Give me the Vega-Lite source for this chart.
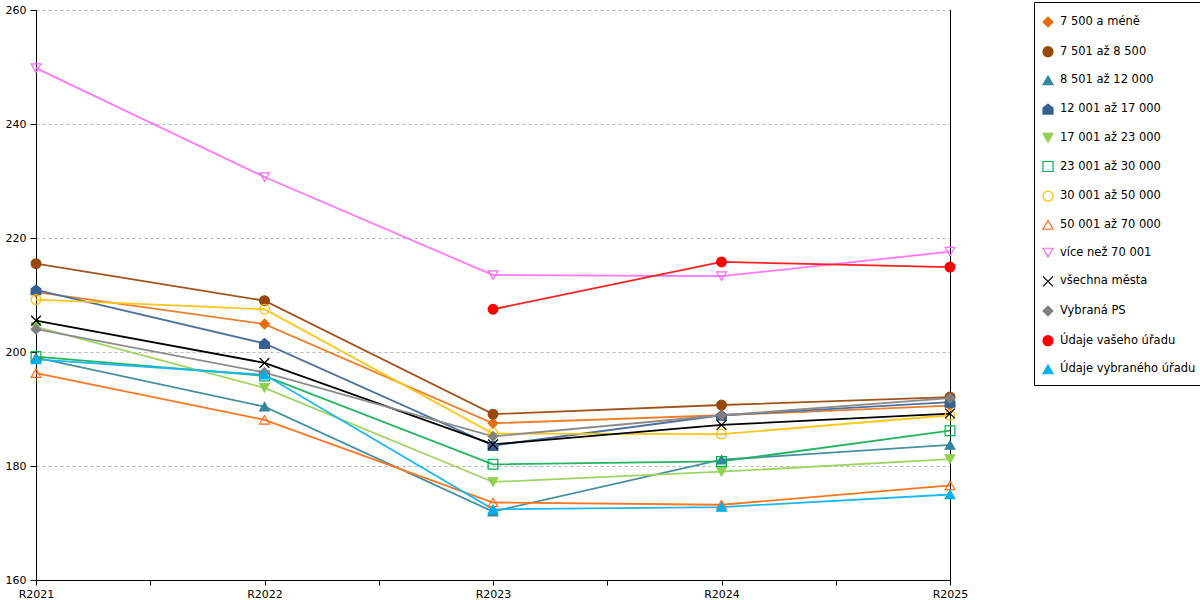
{
  "$schema": "https://vega.github.io/schema/vega-lite/v6.json",
  "width": 914,
  "height": 570,
  "autosize": {"type": "none"},
  "padding": {"left": 36, "top": 10, "right": 250, "bottom": 20},
  "background": "white",
  "config": {
    "view": {"stroke": null},
    "font": "DejaVu Sans",
    "axis": {"labelFont": "DejaVu Sans", "labelFontSize": 11, "labelColor": "#000000", "domainColor": "#000000", "tickColor": "#000000"}
  },
  "data": {
    "values": [
      {"s": "7 500 a méně", "rok": 2021, "v": 210.5},
      {"s": "7 500 a méně", "rok": 2022, "v": 204.9},
      {"s": "7 500 a méně", "rok": 2023, "v": 187.5},
      {"s": "7 500 a méně", "rok": 2024, "v": 188.9},
      {"s": "7 500 a méně", "rok": 2025, "v": 190.6},
      {"s": "7 501 až 8 500", "rok": 2021, "v": 215.5},
      {"s": "7 501 až 8 500", "rok": 2022, "v": 209.0},
      {"s": "7 501 až 8 500", "rok": 2023, "v": 189.1},
      {"s": "7 501 až 8 500", "rok": 2024, "v": 190.7},
      {"s": "7 501 až 8 500", "rok": 2025, "v": 192.1},
      {"s": "8 501 až 12 000", "rok": 2021, "v": 199.0},
      {"s": "8 501 až 12 000", "rok": 2022, "v": 190.4},
      {"s": "8 501 až 12 000", "rok": 2023, "v": 172.0},
      {"s": "8 501 až 12 000", "rok": 2024, "v": 181.1},
      {"s": "8 501 až 12 000", "rok": 2025, "v": 183.7},
      {"s": "12 001 až 17 000", "rok": 2021, "v": 210.9},
      {"s": "12 001 až 17 000", "rok": 2022, "v": 201.5},
      {"s": "12 001 až 17 000", "rok": 2023, "v": 183.6},
      {"s": "12 001 až 17 000", "rok": 2024, "v": 188.9},
      {"s": "12 001 až 17 000", "rok": 2025, "v": 191.2},
      {"s": "17 001 až 23 000", "rok": 2021, "v": 204.4},
      {"s": "17 001 až 23 000", "rok": 2022, "v": 193.7},
      {"s": "17 001 až 23 000", "rok": 2023, "v": 177.2},
      {"s": "17 001 až 23 000", "rok": 2024, "v": 179.0},
      {"s": "17 001 až 23 000", "rok": 2025, "v": 181.2},
      {"s": "23 001 až 30 000", "rok": 2021, "v": 199.2},
      {"s": "23 001 až 30 000", "rok": 2022, "v": 195.8},
      {"s": "23 001 až 30 000", "rok": 2023, "v": 180.3},
      {"s": "23 001 až 30 000", "rok": 2024, "v": 180.8},
      {"s": "23 001 až 30 000", "rok": 2025, "v": 186.2},
      {"s": "30 001 až 50 000", "rok": 2021, "v": 209.2},
      {"s": "30 001 až 50 000", "rok": 2022, "v": 207.5},
      {"s": "30 001 až 50 000", "rok": 2023, "v": 185.7},
      {"s": "30 001 až 50 000", "rok": 2024, "v": 185.6},
      {"s": "30 001 až 50 000", "rok": 2025, "v": 188.9},
      {"s": "50 001 až 70 000", "rok": 2021, "v": 196.3},
      {"s": "50 001 až 70 000", "rok": 2022, "v": 188.1},
      {"s": "50 001 až 70 000", "rok": 2023, "v": 173.6},
      {"s": "50 001 až 70 000", "rok": 2024, "v": 173.2},
      {"s": "50 001 až 70 000", "rok": 2025, "v": 176.6},
      {"s": "více než 70 001", "rok": 2021, "v": 249.8},
      {"s": "více než 70 001", "rok": 2022, "v": 230.7},
      {"s": "více než 70 001", "rok": 2023, "v": 213.5},
      {"s": "více než 70 001", "rok": 2024, "v": 213.3},
      {"s": "více než 70 001", "rok": 2025, "v": 217.6},
      {"s": "všechna města", "rok": 2021, "v": 205.5},
      {"s": "všechna města", "rok": 2022, "v": 198.1},
      {"s": "všechna města", "rok": 2023, "v": 183.8},
      {"s": "všechna města", "rok": 2024, "v": 187.2},
      {"s": "všechna města", "rok": 2025, "v": 189.2},
      {"s": "Vybraná PS", "rok": 2021, "v": 204.0},
      {"s": "Vybraná PS", "rok": 2022, "v": 196.4},
      {"s": "Vybraná PS", "rok": 2023, "v": 185.2},
      {"s": "Vybraná PS", "rok": 2024, "v": 188.9},
      {"s": "Vybraná PS", "rok": 2025, "v": 191.9},
      {"s": "Údaje vašeho úřadu", "rok": 2023, "v": 207.5},
      {"s": "Údaje vašeho úřadu", "rok": 2024, "v": 215.8},
      {"s": "Údaje vašeho úřadu", "rok": 2025, "v": 214.9},
      {"s": "Údaje vybraného úřadu", "rok": 2021, "v": 198.7},
      {"s": "Údaje vybraného úřadu", "rok": 2022, "v": 196.0},
      {"s": "Údaje vybraného úřadu", "rok": 2023, "v": 172.4},
      {"s": "Údaje vybraného úřadu", "rok": 2024, "v": 172.8},
      {"s": "Údaje vybraného úřadu", "rok": 2025, "v": 175.0}
    ]
  },
  "encoding": {
    "x": {
      "field": "rok",
      "type": "quantitative",
      "scale": {"domain": [2021, 2025], "nice": false, "zero": false},
      "axis": {
        "title": null,
        "grid": false,
        "values": [2021, 2021.5, 2022, 2022.5, 2023, 2023.5, 2024, 2024.5, 2025],
        "labelExpr": "datum.value % 1 === 0 ? 'R' + datum.value : ''",
        "labelFlush": false,
        "labelOverlap": false,
        "tickSize": 5,
        "labelPadding": 3
      }
    },
    "y": {
      "field": "v",
      "type": "quantitative",
      "scale": {"domain": [160, 260], "nice": false, "zero": false},
      "axis": {
        "title": null,
        "values": [160, 180, 200, 220, 240, 260],
        "grid": true,
        "gridColor": "#b4b4b4",
        "gridDash": [3, 3],
        "tickSize": 6,
        "labelPadding": 4
      }
    }
  },
  "layer": [
    {
      "data": {"values": [{"rok": 2025}]},
      "mark": {"type": "rule", "color": "#000000", "strokeWidth": 1, "xOffset": 0.5},
      "encoding": {"x": {"field": "rok", "type": "quantitative"}, "y": null}
    },
    {
      "mark": {"type": "line", "strokeWidth": 1.8},
      "encoding": {
        "color": {
          "field": "s",
          "type": "nominal",
          "legend": null,
          "scale": {
            "domain": ["Údaje vybraného úřadu", "Údaje vašeho úřadu", "Vybraná PS", "všechna města", "více než 70 001", "50 001 až 70 000", "30 001 až 50 000", "23 001 až 30 000", "17 001 až 23 000", "12 001 až 17 000", "8 501 až 12 000", "7 501 až 8 500", "7 500 a méně"],
            "range": ["#1ab8f2", "#ff1f1f", "#8c8c8c", "#000000", "#ff77ff", "#ff751f", "#ffc61a", "#22b45f", "#9dd462", "#4d72a0", "#4590a3", "#a0531a", "#ee7d2c"]
          }
        }
      }
    },
    {
      "mark": {"type": "point", "opacity": 1, "size": 95, "strokeWidth": 1.2},
      "encoding": {
        "stroke": {
          "field": "s",
          "type": "nominal",
          "scale": {
            "domain": ["7 500 a méně", "7 501 až 8 500", "8 501 až 12 000", "12 001 až 17 000", "17 001 až 23 000", "23 001 až 30 000", "30 001 až 50 000", "50 001 až 70 000", "více než 70 001", "všechna města", "Vybraná PS", "Údaje vašeho úřadu", "Údaje vybraného úřadu"],
            "range": ["#e46c0a", "#984807", "#31859c", "#376092", "#92d050", "#00b050", "#ffc000", "#ff6a13", "#ff66ff", "#000000", "#808080", "#ff0000", "#00b0f0"]
          },
          "legend": {
            "title": " ",
            "titleFontSize": 4,
            "titlePadding": 2,
            "orient": "none",
            "legendX": 998,
            "legendY": -8,
            "strokeColor": "#000000",
            "fillColor": "#ffffff",
            "padding": 8,
            "rowPadding": 13.7,
            "labelFont": "DejaVu Sans",
            "labelFontSize": 11.5,
            "labelColor": "#000000",
            "labelOffset": 6,
            "symbolSize": 100,
            "symbolStrokeWidth": 1.2,
            "labelLimit": 200
          }
        },
        "fill": {
          "field": "s",
          "type": "nominal",
          "scale": {
            "domain": ["7 500 a méně", "7 501 až 8 500", "8 501 až 12 000", "12 001 až 17 000", "17 001 až 23 000", "23 001 až 30 000", "30 001 až 50 000", "50 001 až 70 000", "více než 70 001", "všechna města", "Vybraná PS", "Údaje vašeho úřadu", "Údaje vybraného úřadu"],
            "range": ["#e46c0a", "#984807", "#31859c", "#376092", "#92d050", "transparent", "transparent", "transparent", "transparent", "transparent", "#808080", "#ff0000", "#00b0f0"]
          }
        },
        "shape": {
          "field": "s",
          "type": "nominal",
          "scale": {
            "domain": ["7 500 a méně", "7 501 až 8 500", "8 501 až 12 000", "12 001 až 17 000", "17 001 až 23 000", "23 001 až 30 000", "30 001 až 50 000", "50 001 až 70 000", "více než 70 001", "všechna města", "Vybraná PS", "Údaje vašeho úřadu", "Údaje vybraného úřadu"],
            "range": ["diamond", "circle", "triangle-up", "M0,-1L1,-0.2L1,1L-1,1L-1,-0.2Z", "triangle-down", "square", "circle", "triangle-up", "triangle-down", "M-1,-1L1,1M-1,1L1,-1", "diamond", "circle", "triangle-up"]
          }
        }
      }
    }
  ]
}
